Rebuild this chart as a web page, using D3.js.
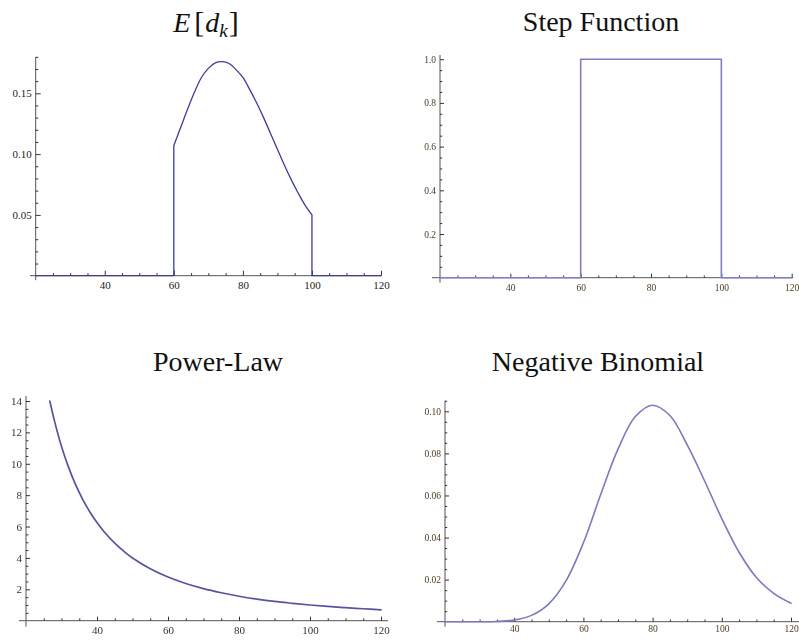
<!DOCTYPE html>
<html><head><meta charset="utf-8">
<script src="https://cdn.jsdelivr.net/npm/d3@7"></script>
<style>
html,body{margin:0;padding:0;background:#fff;}
svg{display:block;}
</style></head><body>
<svg id="chart" width="799" height="642"></svg>
<script>
// Expected degree E[d_k]: zero outside [60, 100], jumps at both ends
const dkX = [20, 60, 60, 62, 64, 66, 68, 70, 72, 74, 76, 78, 80, 82, 84, 86, 88, 90, 92, 94, 96, 98, 100, 100, 120];
const dkY = [0, 0, 0.107, 0.122, 0.137, 0.151, 0.163, 0.1705, 0.175, 0.176, 0.1745, 0.1695, 0.163, 0.153, 0.142, 0.130, 0.117, 0.104, 0.091, 0.079, 0.068, 0.058, 0.050, 0, 0];

// Step function on [60, 100]
const stepX = [20, 60, 60, 100, 100, 120];
const stepY = [0, 0, 1, 1, 0, 0];

// Power-law decay
const powX = [26.7, 28, 30, 32, 34, 36, 38, 40, 42, 45, 48, 50, 55, 60, 65, 70, 75, 80, 85, 90, 95, 100, 105, 110, 115, 120];
const powY = [14.0, 12.75, 11.1, 9.77, 8.65, 7.72, 6.93, 6.25, 5.67, 4.94, 4.34, 4.0, 3.31, 2.78, 2.37, 2.04, 1.78, 1.56, 1.38, 1.23, 1.11, 1.0, 0.91, 0.83, 0.76, 0.69];

// Negative binomial
const nbX = [20, 25, 30, 35, 40, 45, 50, 55, 60, 65, 70, 75, 80, 85, 90, 95, 100, 105, 110, 115, 120];
const nbY = [0, 0, 0, 0.0001, 0.0008, 0.003, 0.0085, 0.0195, 0.0375, 0.0605, 0.082, 0.0975, 0.1029, 0.098, 0.084, 0.067, 0.049, 0.033, 0.021, 0.0135, 0.0088];

// Tick values and labels
const xTicks = [40, 60, 80, 100, 120];
const dkTicks = [0.05, 0.10, 0.15];
const dkLabels = ["0.05", "0.10", "0.15"];
const stepTicks = [0.2, 0.4, 0.6, 0.8, 1.0];
const stepLabels = ["0.2", "0.4", "0.6", "0.8", "1.0"];
const powTicks = [2, 4, 6, 8, 10, 12, 14];
const powLabels = ["2", "4", "6", "8", "10", "12", "14"];
const nbTicks = [0.02, 0.04, 0.06, 0.08, 0.10];
const nbLabels = ["0.02", "0.04", "0.06", "0.08", "0.10"];

const svg = d3.select("#chart");
const defs = svg.append("defs");
defs.append("filter").attr("id", "soft")
  .attr("x", "-5%").attr("y", "-5%").attr("width", "110%").attr("height", "110%")
  .append("feGaussianBlur").attr("stdDeviation", 0.45);

const panels = [
  { xs: dkX, ys: dkY, yTicks: dkTicks, yLabels: dkLabels, minor: 0.01, yMax: 0.18,
    xr: [35.7, 381], yr: [275.7, 93.3], yv: 0.15, xExt: [-5.7, 0], yExt: [4.5, 57],
    stroke: "#3d3d99", sw: 1.3, blur: false,
    font: 11, labColor: "#222", xLabDy: 15, yLabGap: 4, tickMaj: 5, tickMin: 2.6,
    title: "E", tx: 206, ty: 32 },
  { xs: stepX, ys: stepY, yTicks: stepTicks, yLabels: stepLabels, minor: 0.05, yMax: 1.0,
    xr: [440, 791.7], yr: [277.7, 59.2], yv: 1.0, xExt: [-8, 1.5], yExt: [5, 55],
    stroke: "#7f7fc6", sw: 1.6, blur: true,
    font: 9.5, labColor: "#4e3b22", xLabDy: 16, yLabGap: 4, tickMaj: 4, tickMin: 2.2,
    title: "Step Function", tx: 601, ty: 31 },
  { xs: powX, ys: powY, yTicks: powTicks, yLabels: powLabels, minor: 0.5, yMax: 14,
    xr: [26, 381], yr: [620.7, 401], yv: 14, xExt: [-7, 7], yExt: [6, 396],
    stroke: "#55559f", sw: 1.7, blur: true,
    font: 11, labColor: "#333", xLabDy: 15, yLabGap: 4, tickMaj: 4, tickMin: 2.4,
    title: "Power-Law", tx: 218, ty: 371 },
  { xs: nbX, ys: nbY, yTicks: nbTicks, yLabels: nbLabels, minor: 0.005, yMax: 0.105,
    xr: [445, 791], yr: [621.7, 411.3], yv: 0.10, xExt: [-8, 8], yExt: [5, 400.7],
    stroke: "#7a7abf", sw: 1.6, blur: true,
    font: 9.5, labColor: "#4e3b22", xLabDy: 12.5, yLabGap: 4, tickMaj: 4, tickMin: 2.2,
    title: "Negative Binomial", tx: 598, ty: 371 }
];

// Split a series at repeated x values so jumps stay vertical and the rest stays smooth
function pieces(xs, ys) {
  const out = [];
  let cur = [[xs[0], ys[0]]];
  for (let i = 1; i < xs.length; i++) {
    const p = [xs[i], ys[i]];
    if (xs[i] === xs[i - 1]) {
      if (cur.length > 1) out.push(cur);
      out.push([[xs[i - 1], ys[i - 1]], p]);
      cur = [p];
    } else {
      cur.push(p);
    }
  }
  if (cur.length > 1) out.push(cur);
  return out;
}

const serif = "'Liberation Serif', 'Times New Roman', serif";

panels.forEach(P => {
  const x = d3.scaleLinear().domain([20, 120]).range(P.xr);
  const y = d3.scaleLinear().domain([0, P.yv]).range(P.yr);
  const g = svg.append("g");
  if (P.blur) g.attr("filter", "url(#soft)");

  const y0 = y(0), x0 = x(20);

  // axis lines crossing at the origin
  g.append("line")
    .attr("x1", x0 + P.xExt[0]).attr("x2", x(120) + P.xExt[1])
    .attr("y1", y0).attr("y2", y0)
    .attr("stroke", "#555").attr("stroke-width", 1);
  g.append("line")
    .attr("x1", x0).attr("x2", x0)
    .attr("y1", y0 + P.yExt[0]).attr("y2", P.yExt[1])
    .attr("stroke", "#555").attr("stroke-width", 1);

  // x ticks: major and minor, pointing into the plot
  const xMinor = d3.range(25, 121, 5).filter(v => v % 20 !== 0);
  const xAxisMaj = d3.axisBottom(x).tickValues(xTicks).tickSize(-P.tickMaj).tickPadding(P.xLabDy - 9).tickFormat(d3.format("d"));
  const xAxisMin = d3.axisBottom(x).tickValues(xMinor).tickSize(-P.tickMin).tickFormat("");
  [xAxisMin, xAxisMaj].forEach(ax => {
    const a = g.append("g").attr("transform", `translate(0,${y0})`).call(ax);
    a.select(".domain").remove();
    a.selectAll("line").attr("stroke", "#333");
    a.selectAll("text").attr("font-family", serif)
      .attr("font-size", P.font).attr("fill", P.labColor);
  });

  // y ticks
  const nMin = Math.round(P.yMax / P.minor);
  const yMinor = d3.range(1, nMin + 1).map(i => +(i * P.minor).toFixed(6))
    .filter(v => !P.yTicks.some(t => Math.abs(t - v) < 1e-9));
  const yAxisMaj = d3.axisLeft(y).tickValues(P.yTicks).tickSize(-P.tickMaj).tickPadding(P.yLabGap)
    .tickFormat((d, i) => P.yLabels[i]);
  const yAxisMin = d3.axisLeft(y).tickValues(yMinor).tickSize(-P.tickMin).tickFormat("");
  [yAxisMin, yAxisMaj].forEach(ax => {
    const a = g.append("g").attr("transform", `translate(${x0},0)`).call(ax);
    a.select(".domain").remove();
    a.selectAll("line").attr("stroke", "#333");
    a.selectAll("text").attr("font-family", serif)
      .attr("font-size", P.font).attr("fill", P.labColor);
  });

  // curve
  const line = d3.line().x(d => x(d[0])).y(d => y(d[1])).curve(d3.curveCatmullRom.alpha(0.5));
  const dStr = pieces(P.xs, P.ys).map(pc => line(pc)).join("");
  g.append("path").attr("d", dStr)
    .attr("fill", "none").attr("stroke", P.stroke).attr("stroke-width", P.sw)
    .attr("stroke-linejoin", "round").attr("stroke-linecap", "round");

  // title
  const t = svg.append("text")
    .attr("x", P.tx).attr("y", P.ty).attr("text-anchor", "middle")
    .attr("font-family", serif)
    .attr("font-size", 28).attr("fill", "#111");
  if (P.title === "E") {
    t.append("tspan").attr("font-style", "italic").text("E");
    t.append("tspan").attr("dx", 4).attr("font-size", 30).text("[");
    t.append("tspan").attr("dx", 1).attr("font-style", "italic").text("d");
    t.append("tspan").attr("font-style", "italic").attr("font-size", 19).attr("dy", 5).text("k");
    t.append("tspan").attr("dx", 1).attr("dy", -5).attr("font-size", 30).text("]");
  } else {
    t.text(P.title);
  }
});
</script>
</body></html>
